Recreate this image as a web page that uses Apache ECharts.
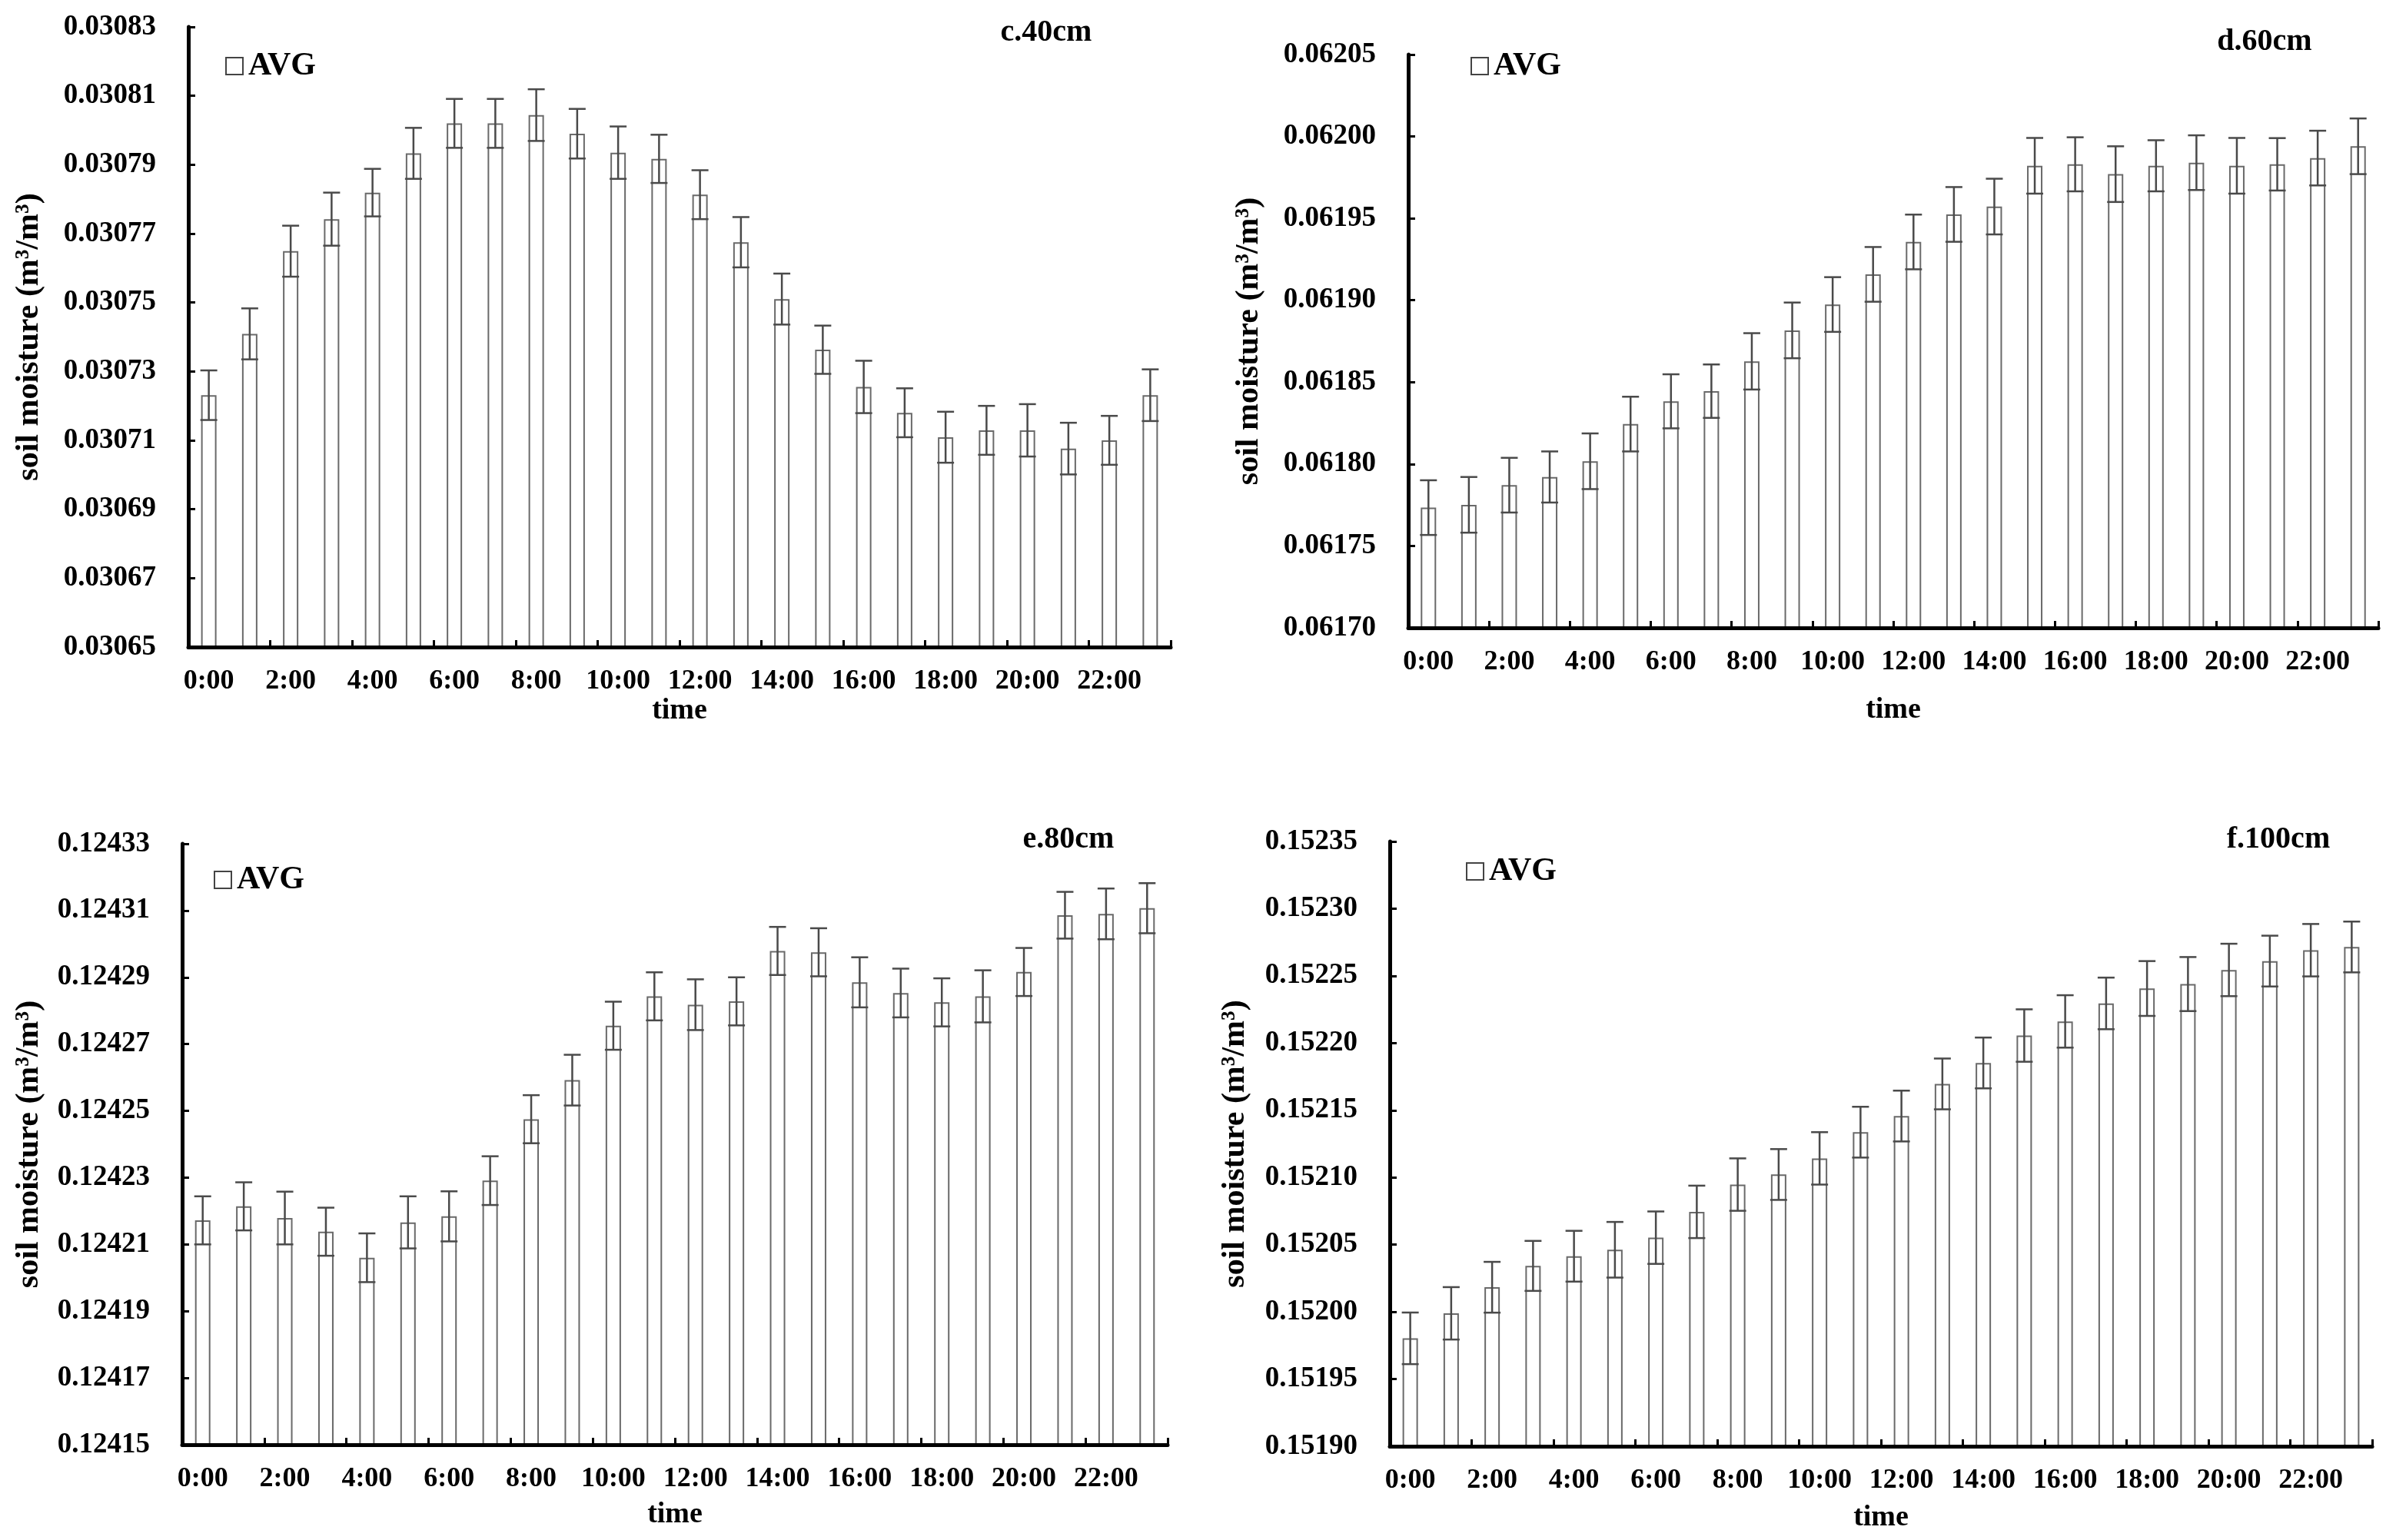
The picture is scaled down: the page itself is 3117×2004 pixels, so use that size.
<!DOCTYPE html>
<html>
<head>
<meta charset="utf-8">
<script src="https://cdn.jsdelivr.net/npm/echarts@6/dist/echarts.min.js"></script>
<style>
html, body { margin: 0; padding: 0; background: #fff; }
#main { width: 3117px; height: 2004px; }
</style>
</head>
<body>
<div id="main"></div>
<script>
// hours of the day
var hours = ['0:00', '1:00', '2:00', '3:00', '4:00', '5:00', '6:00', '7:00', '8:00', '9:00', '10:00', '11:00',
	'12:00', '13:00', '14:00', '15:00', '16:00', '17:00', '18:00', '19:00', '20:00', '21:00', '22:00', '23:00'];

// c. 40cm
var avg40 = [0.0307231, 0.0307409, 0.0307649, 0.0307742, 0.0307819, 0.0307933, 0.0308020, 0.0308020,
	0.0308044, 0.0307990, 0.0307935, 0.0307917, 0.0307813, 0.0307675, 0.0307510, 0.0307363,
	0.0307255, 0.0307180, 0.0307109, 0.0307129, 0.0307129, 0.0307076, 0.0307100, 0.0307231];
var err40 = [0.0000072, 0.0000074, 0.0000074, 0.0000077, 0.0000069, 0.0000074, 0.0000071, 0.0000071,
	0.0000075, 0.0000072, 0.0000076, 0.0000070, 0.0000071, 0.0000073, 0.0000074, 0.0000070,
	0.0000076, 0.0000071, 0.0000074, 0.0000071, 0.0000076, 0.0000075, 0.0000071, 0.0000075];

// d. 60cm
var avg60 = [0.0617734, 0.0617751, 0.0617871, 0.0617921, 0.0618017, 0.0618244, 0.0618383, 0.0618445,
	0.0618627, 0.0618816, 0.0618974, 0.0619158, 0.0619356, 0.0619524, 0.0619572, 0.0619821,
	0.0619830, 0.0619770, 0.0619821, 0.0619840, 0.0619821, 0.0619830, 0.0619868, 0.0619940];
var err60 = [0.0000167, 0.0000170, 0.0000167, 0.0000156, 0.0000170, 0.0000167, 0.0000165, 0.0000163,
	0.0000172, 0.0000170, 0.0000167, 0.0000167, 0.0000167, 0.0000167, 0.0000170, 0.0000170,
	0.0000165, 0.0000170, 0.0000156, 0.0000167, 0.0000170, 0.0000160, 0.0000167, 0.0000170];

// e. 80cm
var avg80 = [0.1242172, 0.1242214, 0.1242179, 0.1242138, 0.1242060, 0.1242166, 0.1242184, 0.1242291,
	0.1242475, 0.1242592, 0.1242755, 0.1242843, 0.1242818, 0.1242828, 0.1242979, 0.1242975,
	0.1242885, 0.1242853, 0.1242825, 0.1242843, 0.1242916, 0.1243086, 0.1243090, 0.1243107];
var err80 = [0.0000072, 0.0000072, 0.0000079, 0.0000072, 0.0000073, 0.0000078, 0.0000075, 0.0000073,
	0.0000072, 0.0000076, 0.0000072, 0.0000072, 0.0000076, 0.0000072, 0.0000072, 0.0000072,
	0.0000075, 0.0000073, 0.0000072, 0.0000078, 0.0000072, 0.0000070, 0.0000076, 0.0000075];

// f. 100cm
var avg100 = [0.1519803, 0.1519989, 0.1520183, 0.1520342, 0.1520414, 0.1520462, 0.1520552, 0.1520744,
	0.1520947, 0.1521022, 0.1521142, 0.1521337, 0.1521457, 0.1521696, 0.1521852, 0.1522056,
	0.1522161, 0.1522295, 0.1522406, 0.1522439, 0.1522544, 0.1522610, 0.1522691, 0.1522715];
var err100 = [0.0000192, 0.0000195, 0.0000189, 0.0000186, 0.0000189, 0.0000207, 0.0000195, 0.0000195,
	0.0000195, 0.0000189, 0.0000195, 0.0000189, 0.0000189, 0.0000189, 0.0000189, 0.0000195,
	0.0000195, 0.0000192, 0.0000204, 0.0000201, 0.0000195, 0.0000189, 0.0000195, 0.0000189];

// axis ranges
var titles = ['c.40cm', 'd.60cm', 'e.80cm', 'f.100cm'];
var yMins = [0.03065, 0.06170, 0.12415, 0.15190];
var yMaxs = [0.03083, 0.06205, 0.12433, 0.15235];
var yIntervals = [0.00002, 0.00005, 0.00002, 0.00005];
var avgs = [avg40, avg60, avg80, avg100];
var errs = [err40, err60, err80, err100];

// layout of the four panels (pixels)
var panels = [
	{ left: 245, top: 35, width: 1278, height: 807, title: [1361, 43], legend: [293, 76], nameGap: 186, timeGap: 62 },
	{ left: 1832, top: 71, width: 1262, height: 746, title: [2946, 55], legend: [1913, 76], nameGap: 186, timeGap: 88 },
	{ left: 237, top: 1098, width: 1282, height: 782, title: [1390, 1093], legend: [278, 1135], nameGap: 178, timeGap: 72 },
	{ left: 1808, top: 1095, width: 1278, height: 787, title: [2964, 1093], legend: [1907, 1124], nameGap: 180, timeGap: 74 }
];

var FONT = '"Liberation Serif", "Times New Roman", serif';
var BAR_LINE = '#6a6a6a';
var ERR_LINE = '#4a4a4a';

function errorBar(params, api) {
	var x = api.value(0);
	var m = api.value(1);
	var e = api.value(2);
	var hi = api.coord([x, m + e]);
	var lo = api.coord([x, m - e]);
	var hw = 11;
	var st = { stroke: ERR_LINE, lineWidth: 2.5 };
	return {
		type: 'group',
		children: [
			{ type: 'line', shape: { x1: hi[0], y1: hi[1], x2: lo[0], y2: lo[1] }, style: st },
			{ type: 'line', shape: { x1: hi[0] - hw, y1: hi[1], x2: hi[0] + hw, y2: hi[1] }, style: st },
			{ type: 'line', shape: { x1: lo[0] - hw, y1: lo[1], x2: lo[0] + hw, y2: lo[1] }, style: st }
		]
	};
}

var option = {
	backgroundColor: '#fff',
	animation: false,
	title: [],
	legend: [],
	grid: [],
	xAxis: [],
	yAxis: [],
	series: []
};

panels.forEach(function(p, i) {
	option.grid.push({ left: p.left, top: p.top, width: p.width, height: p.height, containLabel: false });

	option.title.push({
		text: titles[i],
		left: p.title[0],
		top: p.title[1] - 20,
		textAlign: 'center',
		padding: 0,
		textStyle: { fontFamily: FONT, fontWeight: 'bold', fontSize: 40, color: '#000' }
	});

	option.legend.push({
		data: ['AVG'],
		left: p.legend[0],
		top: p.legend[1] - 11,
		padding: 0,
		itemWidth: 22,
		itemHeight: 22,
		icon: 'rect',
		itemStyle: { color: '#fff', borderColor: '#444', borderWidth: 2 },
		textStyle: { fontFamily: FONT, fontWeight: 'bold', fontSize: 42, color: '#000', padding: [0, 0, 0, 2] },
		selectedMode: false
	});

	option.xAxis.push({
		type: 'category',
		gridIndex: i,
		z: 10,
		data: hours,
		boundaryGap: true,
		name: 'time',
		nameLocation: 'middle',
		nameGap: p.timeGap,
		nameTextStyle: { fontFamily: FONT, fontWeight: 'bold', fontSize: 38, color: '#000' },
		axisLine: { lineStyle: { color: '#000', width: 5 } },
		axisTick: { show: true, inside: true, length: 9, interval: 1, lineStyle: { color: '#000', width: 3 } },
		axisLabel: { interval: 1, margin: 27, fontFamily: FONT, fontWeight: 'bold', fontSize: 36, color: '#000' },
		splitLine: { show: false }
	});

	option.yAxis.push({
		type: 'value',
		gridIndex: i,
		z: 10,
		min: yMins[i],
		max: yMaxs[i],
		interval: yIntervals[i],
		name: 'soil moisture (m\u00b3/m\u00b3)',
		nameLocation: 'middle',
		nameRotate: 90,
		nameGap: p.nameGap,
		nameTextStyle: { fontFamily: FONT, fontWeight: 'bold', fontSize: 42, color: '#000' },
		axisLine: { show: true, lineStyle: { color: '#000', width: 5 } },
		axisTick: { show: true, inside: true, length: 9, lineStyle: { color: '#000', width: 3 } },
		axisLabel: {
			margin: 42,
			fontFamily: FONT, fontWeight: 'bold', fontSize: 37, color: '#000',
			formatter: function(v) { return v.toFixed(5); }
		},
		splitLine: { show: false }
	});

	option.series.push({
		name: 'AVG',
		type: 'bar',
		xAxisIndex: i,
		yAxisIndex: i,
		barWidth: 20,
		data: avgs[i],
		itemStyle: { color: '#fff', borderColor: BAR_LINE, borderWidth: 2 }
	});

	option.series.push({
		name: 'err',
		type: 'custom',
		xAxisIndex: i,
		yAxisIndex: i,
		renderItem: errorBar,
		encode: { x: 0, y: 1 },
		z: 5,
		data: avgs[i].map(function(v, k) { return [k, v, errs[i][k]]; })
	});
});

var chart = echarts.init(document.getElementById('main'));
chart.setOption(option);
</script>
</body>
</html>
